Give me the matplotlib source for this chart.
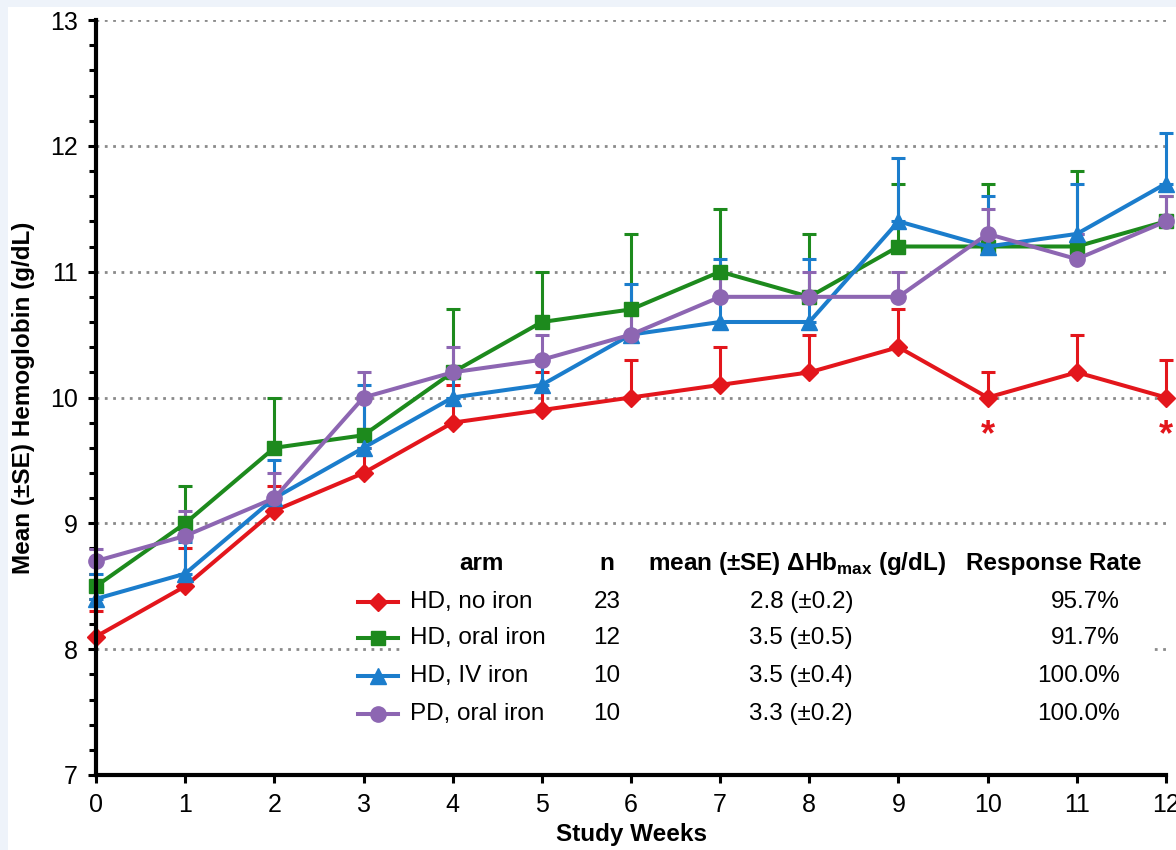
import matplotlib
matplotlib.use('Agg')
import matplotlib.pyplot as plt
from matplotlib.patches import Rectangle
from matplotlib.ticker import MultipleLocator

plt.rcParams['font.family'] = ['Liberation Sans', 'DejaVu Sans']
plt.rcParams['mathtext.fontset'] = 'custom'
plt.rcParams['mathtext.rm'] = 'Liberation Sans'
plt.rcParams['mathtext.bf'] = 'Liberation Sans:bold'

weeks = list(range(13))

# mean Hb (g/dL) and upper SE per arm
hd_no_iron = [8.1, 8.5, 9.1, 9.4, 9.8, 9.9, 10.0, 10.1, 10.2, 10.4, 10.0, 10.2, 10.0]
hd_no_iron_se = [0.2, 0.3, 0.2, 0.2, 0.3, 0.3, 0.3, 0.3, 0.3, 0.3, 0.2, 0.3, 0.3]
hd_oral = [8.5, 9.0, 9.6, 9.7, 10.2, 10.6, 10.7, 11.0, 10.8, 11.2, 11.2, 11.2, 11.4]
hd_oral_se = [0.2, 0.3, 0.4, 0.3, 0.5, 0.4, 0.6, 0.5, 0.5, 0.5, 0.5, 0.6, 0.2]
hd_iv = [8.4, 8.6, 9.2, 9.6, 10.0, 10.1, 10.5, 10.6, 10.6, 11.4, 11.2, 11.3, 11.7]
hd_iv_se = [0.2, 0.25, 0.3, 0.5, 0.2, 0.2, 0.4, 0.5, 0.5, 0.5, 0.4, 0.4, 0.4]
pd_oral = [8.7, 8.9, 9.2, 10.0, 10.2, 10.3, 10.5, 10.8, 10.8, 10.8, 11.3, 11.1, 11.4]
pd_oral_se = [0.1, 0.2, 0.2, 0.2, 0.2, 0.2, 0.2, 0.2, 0.2, 0.2, 0.2, 0.2, 0.2]

arms = ['HD, no iron', 'HD, oral iron', 'HD, IV iron', 'PD, oral iron']
n_pts = ['23', '12', '10', '10']
delta_hb = ['2.8 (\u00b10.2)', '3.5 (\u00b10.5)', '3.5 (\u00b10.4)', '3.3 (\u00b10.2)']
response = ['95.7%', '91.7%', '100.0%', '100.0%']
signif_weeks = [10, 12]

series = [hd_no_iron, hd_oral, hd_iv, pd_oral]
errors = [hd_no_iron_se, hd_oral_se, hd_iv_se, pd_oral_se]
colors = ['#e3161c', '#1d8a1d', '#1b7dcc', '#8d66b2']
markers = ['D', 's', '^', 'o']
msizes = [9, 10, 11, 11]

fig = plt.figure(figsize=(11.76, 8.5), dpi=100)
fig.patch.set_facecolor('#eef3fa')
fig.patches.append(Rectangle((8 / 1176, 0), 1, 1 - 7 / 850, transform=fig.transFigure,
                             facecolor='white', edgecolor='none', zorder=-1))
ax = fig.add_axes([96 / 1176, 75 / 850, 1070 / 1176, 755 / 850])
ax.set_facecolor('none')

ax.set_xlim(0, 12)
ax.set_ylim(7, 13)
for y in range(8, 14):
    ax.axhline(y, color='#8a8a8a', lw=2, ls=(0, (1, 2)), zorder=1)

for vals, se, c, m, ms in zip(series, errors, colors, markers, msizes):
    ax.errorbar(weeks, vals, yerr=[[0] * len(se), se], color=c, lw=2.9, marker=m, ms=ms,
                elinewidth=2.2, capsize=5, capthick=2.2, clip_on=False, zorder=3)

for w in signif_weeks:
    ax.text(w, hd_no_iron[w] - 0.3, '*', color=colors[0], fontsize=26, fontweight='bold',
            ha='center', va='center', clip_on=False, zorder=4)

# legend table
ax.add_patch(Rectangle((3.42, 7.2), 8.45, 1.62, facecolor='white', edgecolor='none', zorder=1.5))
head_y = 8.684
row_y = [8.374, 8.087, 7.785, 7.483]
fs = 17.5
ax.text(4.32, head_y, 'arm', fontsize=fs, fontweight='bold', ha='center', va='center')
ax.text(5.73, head_y, 'n', fontsize=fs, fontweight='bold', ha='center', va='center')
ax.text(7.86, head_y, 'mean (\u00b1SE) \u0394Hb$_{\\mathbf{max}}$ (g/dL)', fontsize=fs,
        fontweight='bold', ha='center', va='center')
ax.text(10.74, head_y, 'Response Rate', fontsize=fs, fontweight='bold', ha='center', va='center')
for i, y in enumerate(row_y):
    ax.plot([2.94, 3.165, 3.39], [y] * 3, color=colors[i], lw=2.9, marker=markers[i],
            ms=msizes[i], markevery=[1], zorder=3)
    ax.text(3.52, y, arms[i], fontsize=fs, ha='left', va='center')
    ax.text(5.73, y, n_pts[i], fontsize=fs, ha='center', va='center')
    ax.text(7.91, y, delta_hb[i], fontsize=fs, ha='center', va='center')
    ax.text(11.48, y, response[i], fontsize=fs, ha='right', va='center')

for side in ['top', 'right']:
    ax.spines[side].set_visible(False)
for side in ['left', 'bottom']:
    ax.spines[side].set_linewidth(3)
    ax.spines[side].set_zorder(5)
ax.set_xticks(weeks)
ax.yaxis.set_major_locator(MultipleLocator(1))
ax.yaxis.set_minor_locator(MultipleLocator(0.2))
ax.tick_params(axis='both', which='major', length=6, width=2.2, labelsize=18, pad=7)
ax.tick_params(axis='y', which='minor', length=5, width=2.2)
ax.set_xlabel('Study Weeks', fontsize=17.5, fontweight='bold', labelpad=4)
ax.set_ylabel('Mean (\u00b1SE) Hemoglobin (g/dL)', fontsize=17.5, fontweight='bold', labelpad=11)

fig.savefig('out.png', dpi=100, facecolor=fig.get_facecolor())
